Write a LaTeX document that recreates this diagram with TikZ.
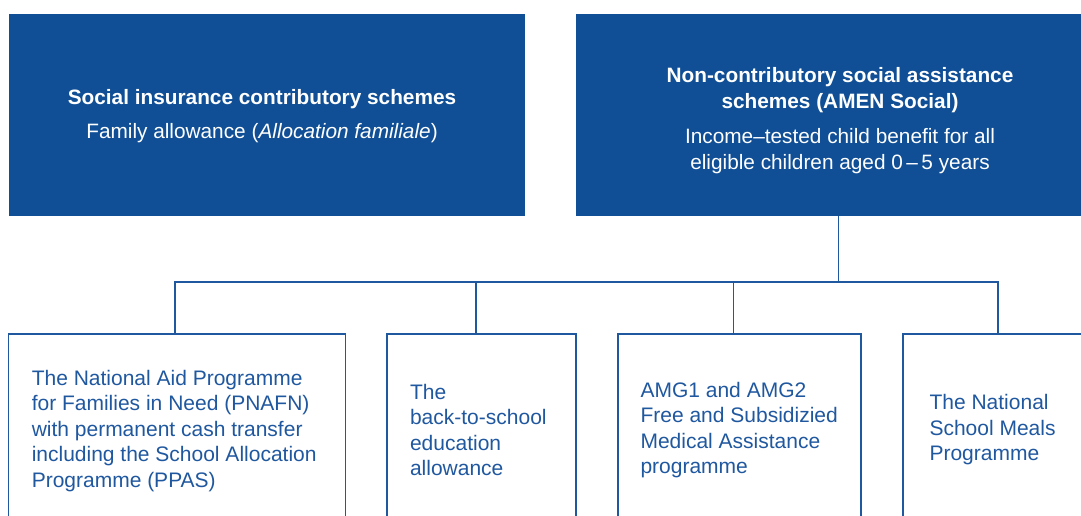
\documentclass[tikz,border=0pt]{standalone}
\usepackage{fontspec}
\setmainfont{Liberation Sans}
\definecolor{dblue}{RGB}{16,79,150}
\definecolor{lblue}{RGB}{32,88,160}
\begin{document}
\begin{tikzpicture}[x=1pt,y=-1pt,
  topbox/.style={fill=dblue,draw=none,inner sep=0pt,text=white,align=center},
  toptxt/.style={text=white,align=center,inner sep=0pt,font=\fontsize{20.8}{25.5}\selectfont},
  subbox/.style={draw=lblue,line width=1.3pt,fill=white,inner sep=0pt},
  btxt/.style={text=lblue,align=left,inner sep=0pt,anchor=west,font=\fontsize{21}{25.5}\selectfont},
  conn/.style={draw=lblue,line width=1.3pt}]
\useasboundingbox (0,0) rectangle (1081,515);
\clip (0,0) rectangle (1081,515);
% top boxes
\node[topbox,minimum width=516pt,minimum height=202pt] (L) at (267,115) {};
\node[topbox,minimum width=525pt,minimum height=202pt] (R) at (838.5,115) {};
\node[toptxt] (Lt) at (262,116)
  {\bfseries Social insurance contributory schemes\\[8pt]
   Family allowance (\textit{Allocation familiale})};
\node[toptxt] (Rt) at (840,120.5)
  {\bfseries Non-contributory social assistance\\ \bfseries schemes (AMEN Social)\\[10pt]
   Income–tested child benefit for all\\ eligible children aged 0\,–\,5 years};
% bottom boxes
\node[subbox,minimum width=337pt,minimum height=192pt] (B1) at (176.7,430) {};
\node[subbox,minimum width=189pt,minimum height=192pt] (B2) at (481.5,430) {};
\node[subbox,minimum width=243pt,minimum height=192pt] (B3) at (739.5,430) {};
\node[subbox,minimum width=190pt,minimum height=192pt] (B4) at (998,430) {};
\node[btxt] (T1) at ([xshift=24pt,yshift=-1pt]B1.west) {The National Aid Programme\\for Families in Need (PNAFN)\\with permanent cash transfer\\including the School Allocation\\Programme (PPAS)};
\node[btxt] (T2) at ([xshift=23.5pt]B2.west) {The\\back-to-school\\education\\allowance};
\node[btxt] (T3) at ([xshift=23pt]B3.west) {AMG1 and AMG2\\Free and Subsidizied\\Medical Assistance\\programme};
\node[btxt] (T4) at ([xshift=27pt]B4.west) {The National\\School Meals\\Programme};
% connectors
\coordinate (bus) at (838.5,282);
\draw[conn] (R.south) -- (bus);
\draw[conn] ([xshift=-1.7pt]B1.north) |- (bus);
\draw[conn] ([xshift=-5.5pt]B2.north) |- (bus);
\draw[conn] ([xshift=-5.8pt]B3.north) |- (bus);
\draw[conn] (B4.north) |- (bus);
\end{tikzpicture}
\end{document}
